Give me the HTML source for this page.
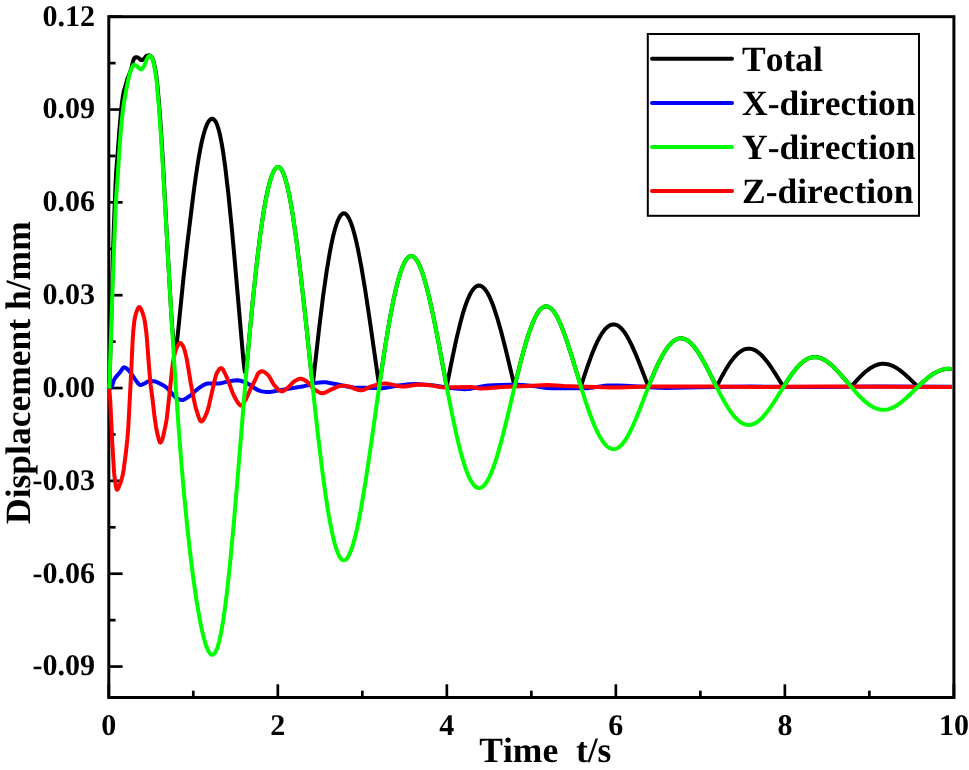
<!DOCTYPE html>
<html><head><meta charset="utf-8"><style>
html,body{margin:0;padding:0;background:#fff;width:969px;height:770px;overflow:hidden}
svg{display:block;will-change:transform;text-rendering:geometricPrecision;font-family:"Liberation Serif",serif;font-weight:bold;font-kerning:none}
</style></head><body>
<svg width="969" height="770" viewBox="0 0 969 770">
<rect width="969" height="770" fill="#fff"/>
<g stroke="#000" stroke-width="2.7"><line x1="108.80" y1="16.70" x2="122.60" y2="16.70"/><line x1="108.80" y1="109.54" x2="122.60" y2="109.54"/><line x1="108.80" y1="202.37" x2="122.60" y2="202.37"/><line x1="108.80" y1="295.21" x2="122.60" y2="295.21"/><line x1="108.80" y1="388.05" x2="122.60" y2="388.05"/><line x1="108.80" y1="480.88" x2="122.60" y2="480.88"/><line x1="108.80" y1="573.72" x2="122.60" y2="573.72"/><line x1="108.80" y1="666.55" x2="122.60" y2="666.55"/><line x1="108.80" y1="63.12" x2="115.60" y2="63.12"/><line x1="108.80" y1="155.95" x2="115.60" y2="155.95"/><line x1="108.80" y1="248.79" x2="115.60" y2="248.79"/><line x1="108.80" y1="341.63" x2="115.60" y2="341.63"/><line x1="108.80" y1="434.46" x2="115.60" y2="434.46"/><line x1="108.80" y1="527.30" x2="115.60" y2="527.30"/><line x1="108.80" y1="620.14" x2="115.60" y2="620.14"/><line x1="108.80" y1="697.50" x2="108.80" y2="684.30"/><line x1="193.31" y1="697.50" x2="193.31" y2="690.70"/><line x1="277.82" y1="697.50" x2="277.82" y2="684.30"/><line x1="362.33" y1="697.50" x2="362.33" y2="690.70"/><line x1="446.84" y1="697.50" x2="446.84" y2="684.30"/><line x1="531.35" y1="697.50" x2="531.35" y2="690.70"/><line x1="615.86" y1="697.50" x2="615.86" y2="684.30"/><line x1="700.37" y1="697.50" x2="700.37" y2="690.70"/><line x1="784.88" y1="697.50" x2="784.88" y2="684.30"/><line x1="869.39" y1="697.50" x2="869.39" y2="690.70"/><line x1="953.90" y1="697.50" x2="953.90" y2="684.30"/></g>
<rect x="108.80" y="16.70" width="845.10" height="680.80" fill="none" stroke="#000" stroke-width="3"/>
<path d="M109.30,383.68 109.55,379.16 110.30,354.43 113.05,252.48 114.05,221.89 115.55,183.93 116.30,169.96 117.55,154.96 119.30,131.08 120.80,113.68 121.80,104.09 123.05,95.23 124.05,90.52 125.30,86.46 127.55,78.26 129.55,73.45 131.05,69.39 131.80,66.68 133.05,61.12 134.05,58.52 134.55,57.84 135.05,57.46 135.80,57.32 137.30,57.37 138.30,57.80 140.80,59.86 141.30,60.07 141.80,60.08 142.80,59.63 144.55,58.29 146.05,56.13 146.55,55.65 147.80,55.59 149.05,55.33 149.55,55.39 150.30,55.81 151.05,56.52 151.80,57.52 152.80,59.14 153.05,59.75 153.80,62.57 155.30,69.48 156.30,75.44 157.05,82.06 158.55,98.05 160.30,119.98 162.30,150.84 168.80,271.30 171.30,314.10 172.30,328.02 173.55,341.72 174.30,347.04 174.80,348.88 175.05,349.23 175.30,349.23 175.55,348.87 176.05,347.21 177.05,340.99 178.05,332.01 183.30,279.44 186.80,248.09 193.30,194.96 195.80,176.58 198.05,161.81 199.80,151.54 201.55,142.75 203.30,135.47 205.05,129.53 206.80,124.81 207.55,123.19 208.55,121.46 209.55,120.17 210.55,119.28 211.55,118.80 212.30,118.72 213.30,119.02 214.05,119.56 215.05,120.70 215.80,121.90 217.30,125.32 218.80,130.12 220.30,136.33 221.80,144.02 223.30,153.18 225.05,165.63 228.30,193.15 231.80,228.18 234.55,258.55 243.30,359.26 244.55,370.17 245.05,372.15 245.30,372.26 245.55,371.74 246.05,369.21 247.05,360.81 253.05,298.27 257.05,260.59 260.30,234.23 263.30,213.69 265.05,203.42 267.05,193.20 268.80,185.60 270.80,178.51 272.80,173.08 274.55,169.69 275.55,168.35 276.30,167.63 277.30,167.05 278.05,166.92 279.05,167.13 279.80,167.59 280.80,168.61 281.55,169.67 283.30,173.17 285.30,178.87 287.05,185.30 289.05,194.25 290.80,203.40 292.80,215.29 296.30,239.43 300.30,271.43 304.55,309.30 311.55,375.49 312.55,383.11 312.80,383.15 313.30,380.02 319.05,328.93 323.05,296.62 326.55,271.90 329.80,252.39 331.55,243.38 333.30,235.50 335.05,228.78 336.80,223.25 338.55,218.93 340.30,215.84 341.05,214.89 342.05,213.97 342.80,213.54 343.80,213.32 344.55,213.41 345.55,213.88 346.30,214.48 347.30,215.61 349.05,218.49 350.80,222.47 352.55,227.52 354.30,233.57 356.05,240.56 358.05,249.64 361.30,266.58 365.05,288.99 369.55,318.77 378.05,378.25 378.80,382.75 379.05,383.67 379.30,383.74 380.05,380.15 385.55,344.25 389.55,320.42 393.30,300.81 395.05,292.71 396.80,285.34 398.80,277.85 400.55,272.17 402.30,267.31 404.05,263.30 405.80,260.16 407.55,257.89 408.30,257.19 409.30,256.50 410.05,256.17 411.05,255.98 411.80,256.02 412.80,256.33 413.55,256.74 414.55,257.54 416.30,259.58 418.30,262.92 420.05,266.68 422.05,271.89 423.80,277.20 425.80,284.07 429.55,299.02 433.55,317.40 438.05,340.22 446.05,383.01 446.55,385.48 446.80,385.94 452.55,356.99 456.55,338.35 460.55,321.91 462.55,314.68 464.30,308.94 466.30,303.10 468.05,298.64 469.80,294.82 471.55,291.64 473.55,288.81 475.30,287.05 477.05,285.96 478.80,285.53 480.55,285.77 482.30,286.66 484.05,288.18 486.05,290.69 487.80,293.52 489.80,297.46 491.55,301.48 493.55,306.71 497.05,317.29 501.05,331.29 505.55,348.86 513.30,381.07 514.05,383.78 514.30,384.41 514.55,384.68 514.80,384.44 515.05,383.83 515.55,382.12 521.30,359.29 525.30,344.68 528.80,333.38 532.05,324.41 533.80,320.26 535.55,316.61 537.30,313.50 539.05,310.93 540.80,308.92 542.55,307.48 544.05,306.69 545.80,306.31 547.30,306.43 549.05,307.10 550.80,308.31 552.55,310.07 554.30,312.33 556.05,315.08 557.80,318.29 559.80,322.49 563.05,330.38 566.80,340.85 571.30,354.81 579.80,382.71 580.55,384.82 580.80,385.26 581.05,385.34 581.30,385.00 581.80,383.74 587.30,366.97 591.30,355.81 595.05,346.58 597.05,342.21 598.80,338.75 600.80,335.21 602.55,332.50 604.30,330.16 606.05,328.21 608.05,326.47 609.80,325.37 611.55,324.69 613.30,324.42 615.05,324.57 616.80,325.12 618.55,326.09 620.30,327.46 622.05,329.23 624.05,331.70 625.80,334.25 627.80,337.57 631.55,344.84 635.55,353.84 639.55,363.73 648.30,386.39 648.55,386.34 654.05,372.87 658.30,363.41 662.05,356.07 665.80,349.86 667.80,347.05 669.55,344.89 671.30,343.03 673.05,341.47 675.05,340.06 676.80,339.16 678.55,338.57 680.30,338.30 682.05,338.34 683.80,338.69 685.55,339.35 687.55,340.48 689.30,341.77 691.30,343.59 693.30,345.76 695.30,348.25 699.05,353.70 703.30,360.90 707.80,369.39 715.80,385.36 716.30,386.27 716.55,386.44 722.55,375.17 726.30,368.62 730.05,362.77 733.55,358.10 735.55,355.81 737.30,354.05 739.05,352.53 740.80,351.24 742.55,350.21 744.30,349.44 746.05,348.92 747.80,348.66 749.55,348.66 751.30,348.92 753.05,349.42 755.05,350.31 756.80,351.33 758.80,352.79 760.80,354.53 762.80,356.53 766.55,360.93 770.80,366.75 775.30,373.60 783.30,386.51 783.55,386.64 788.55,378.86 792.30,373.46 796.05,368.65 799.55,364.81 803.05,361.68 804.80,360.41 806.55,359.34 808.30,358.48 809.80,357.90 811.55,357.42 813.30,357.15 815.05,357.07 817.05,357.23 818.80,357.58 820.80,358.20 822.80,359.05 824.80,360.12 826.80,361.39 829.05,363.04 833.30,366.73 837.80,371.30 842.30,376.35 851.05,386.65 851.30,386.56 856.55,380.57 860.55,376.33 864.05,372.99 867.30,370.27 870.55,367.97 873.80,366.14 877.05,364.81 880.05,364.06 882.05,363.81 883.80,363.76 885.80,363.90 887.80,364.25 889.80,364.79 891.80,365.52 893.80,366.44 896.05,367.68 900.05,370.37 904.55,374.03 908.55,377.68 917.80,386.59 918.30,386.33 924.05,380.99 928.55,377.22 932.55,374.32 936.55,371.97 940.55,370.22 944.30,369.18 948.05,368.76 951.80,368.97" fill="none" stroke="#000000" stroke-width="4" stroke-linejoin="round" stroke-linecap="butt"/>
<path d="M109.30,388.60 109.80,388.48 110.55,387.93 112.05,385.96 113.80,380.40 115.05,378.13 117.30,375.32 120.55,371.71 122.80,368.09 123.55,367.39 124.05,367.31 125.05,367.59 126.30,368.33 127.55,369.22 128.80,370.47 131.55,373.97 134.55,378.68 137.30,382.38 138.55,383.88 139.55,384.71 140.55,385.00 142.05,384.66 145.05,383.23 147.55,381.65 148.55,381.32 154.30,381.31 156.05,381.71 162.55,384.90 164.55,386.11 166.55,387.54 168.30,389.21 174.80,396.65 176.30,398.08 177.30,398.64 179.55,399.54 180.80,399.87 182.05,400.00 183.05,399.90 184.05,399.58 186.55,398.18 191.30,394.76 196.30,390.13 198.05,388.66 203.30,385.16 205.80,383.92 207.80,383.50 219.55,383.44 221.55,383.09 227.30,381.63 233.80,380.59 237.55,380.30 239.05,380.40 240.55,380.75 243.80,381.84 246.05,382.80 251.05,385.59 254.80,388.38 257.55,389.87 259.30,390.66 260.80,391.15 262.80,391.52 265.55,391.88 267.80,392.00 270.05,391.91 272.80,391.56 280.30,390.12 303.80,386.17 307.80,385.29 312.55,383.63 314.55,383.12 319.80,382.42 323.55,382.20 325.80,382.30 328.55,382.70 337.80,384.42 350.80,387.21 353.80,387.54 374.30,388.12 382.55,388.15 387.05,387.61 395.30,385.94 398.80,385.38 409.30,384.30 415.80,384.11 422.30,384.38 431.80,385.12 435.80,385.65 448.05,387.68 458.55,388.87 464.55,389.20 467.55,389.09 471.05,388.66 483.05,386.16 488.05,385.42 500.05,384.93 512.30,384.71 518.30,384.79 525.30,385.27 535.30,386.24 546.80,387.91 551.55,388.20 587.05,388.15 592.55,387.63 604.80,385.80 608.05,385.50 610.80,385.40 617.30,385.49 625.05,385.77 642.80,386.64 658.55,387.66 666.30,387.90 676.05,387.79 699.55,387.21 751.30,386.62 819.30,386.90 876.80,386.60 951.80,386.70" fill="none" stroke="#0000ff" stroke-width="4" stroke-linejoin="round" stroke-linecap="butt"/>
<path d="M109.30,388.60 110.30,401.65 112.30,443.70 114.05,472.13 114.55,477.18 115.80,485.73 116.55,488.91 116.80,489.46 117.05,489.69 117.30,489.65 117.80,489.18 118.80,487.12 121.05,481.19 122.30,476.80 123.05,473.15 123.80,468.58 125.80,453.59 127.30,439.64 128.30,427.07 131.30,370.00 132.55,342.24 133.30,330.52 134.30,321.51 134.80,318.29 135.30,316.00 136.55,311.79 137.55,309.16 138.55,307.51 139.30,307.10 140.05,307.47 140.80,308.50 142.30,312.02 144.05,317.70 145.05,323.14 146.30,332.45 146.80,337.65 149.55,373.27 150.55,384.53 152.55,399.61 154.55,416.89 156.05,427.06 157.05,432.29 159.05,440.43 159.80,442.21 160.30,442.60 160.80,442.33 161.30,441.62 162.30,439.50 162.80,437.94 165.30,426.64 166.55,419.82 167.55,411.85 172.55,365.17 173.80,357.70 175.05,352.24 176.30,348.44 177.55,345.85 178.55,344.13 179.30,343.25 180.05,342.90 180.55,343.01 181.30,343.59 183.05,346.08 184.05,348.46 185.05,351.87 186.30,356.87 187.05,360.57 190.80,383.35 193.55,397.83 195.05,404.94 196.30,409.68 199.05,418.20 199.80,419.92 200.30,420.77 200.80,421.31 201.30,421.50 201.80,421.39 202.55,420.85 203.80,419.12 205.55,415.57 207.05,412.09 207.55,410.63 209.05,404.92 214.80,379.78 216.30,374.34 217.05,372.59 219.05,369.47 220.05,368.46 220.55,368.18 221.05,368.10 221.80,368.38 222.80,369.41 223.80,371.03 224.80,373.04 228.30,380.80 232.30,391.96 233.80,395.43 236.80,400.97 238.30,403.36 239.80,405.03 240.55,405.47 241.05,405.59 241.80,405.42 242.80,404.46 246.05,399.03 247.30,396.40 250.55,388.73 255.05,380.20 257.80,373.90 258.30,373.19 259.80,372.04 261.05,371.39 262.05,371.20 263.30,371.43 264.55,372.08 266.05,373.23 268.30,375.30 269.80,377.44 272.80,383.01 274.05,384.96 278.05,389.37 279.30,390.42 280.55,391.10 281.30,391.28 282.30,391.23 283.30,390.90 284.30,390.37 285.80,389.29 289.30,386.37 292.55,382.83 293.80,381.73 296.30,380.17 298.05,379.27 299.55,378.79 300.80,378.71 302.05,378.94 303.55,379.53 307.30,381.81 308.80,383.31 312.55,387.97 313.30,388.63 316.05,390.55 318.05,391.80 319.55,392.54 321.05,393.03 322.30,393.20 323.55,393.09 325.05,392.62 329.30,390.44 336.55,387.10 338.80,386.24 340.55,385.82 342.05,385.70 344.55,385.81 350.05,386.61 351.30,387.06 354.80,388.94 358.80,390.05 360.30,390.27 361.55,390.28 363.05,390.03 364.55,389.52 370.05,386.83 372.05,386.07 379.80,384.05 382.30,383.65 384.55,383.50 386.55,383.59 388.80,383.89 398.30,386.05 402.30,386.57 404.55,386.56 406.80,386.34 416.55,384.66 420.55,384.52 424.80,384.76 431.30,385.39 438.80,386.80 441.80,387.17 456.30,387.20 470.55,387.01 473.05,387.26 478.55,388.21 481.05,388.40 487.30,388.17 502.05,387.01 527.55,385.97 541.80,385.15 547.55,385.00 552.30,385.14 564.05,386.00 586.05,386.63 603.55,387.37 610.05,387.50 619.55,387.38 644.80,386.62 689.05,386.41 710.30,386.44 757.55,386.90 820.05,386.60 951.80,386.90" fill="none" stroke="#ff0000" stroke-width="4" stroke-linejoin="round" stroke-linecap="butt"/>
<path d="M109.30,388.60 112.80,279.26 115.80,203.72 116.30,195.35 117.55,179.27 119.05,155.19 120.30,137.67 121.55,122.57 122.80,110.94 124.05,102.22 127.80,81.62 129.05,76.18 130.05,72.53 132.30,67.02 133.05,65.69 133.55,65.10 134.05,64.82 134.55,64.84 135.55,65.30 137.30,66.54 140.05,69.06 140.80,69.38 141.55,69.24 142.55,68.29 144.30,65.63 146.55,59.78 147.80,57.59 148.80,56.20 149.30,55.81 149.80,55.71 150.30,55.89 151.05,56.57 151.80,57.65 152.80,59.52 153.55,62.27 155.05,70.09 155.80,74.63 156.55,80.47 158.80,105.85 160.55,129.50 162.30,156.81 171.05,310.75 173.80,356.37 176.30,395.00 178.80,430.16 181.55,465.10 184.30,496.51 187.05,524.72 190.05,552.18 193.30,578.29 196.55,600.79 199.80,619.71 201.30,627.21 202.80,633.89 204.30,639.73 205.80,644.69 207.30,648.73 208.80,651.79 210.30,653.82 211.55,654.69 212.55,654.81 213.55,654.40 214.55,653.45 215.55,651.93 216.55,649.82 217.55,647.12 219.30,640.94 221.05,632.88 223.05,621.39 225.05,607.53 227.05,591.42 230.30,560.91 233.80,523.12 237.05,484.81 245.55,380.73 250.55,324.13 253.05,298.32 255.55,274.45 258.05,252.70 260.30,235.03 262.55,219.26 264.80,205.46 267.05,193.68 269.05,184.96 271.30,177.16 273.30,172.05 274.30,170.14 275.30,168.68 276.30,167.67 277.30,167.10 278.30,166.98 279.05,167.19 280.05,167.87 280.80,168.68 281.55,169.74 282.55,171.56 283.55,173.84 284.55,176.56 286.30,182.40 288.05,189.58 289.80,198.03 291.80,209.20 293.80,221.85 295.80,235.88 300.05,269.59 304.55,309.60 313.55,394.72 317.55,431.21 321.80,466.93 325.55,494.77 327.80,509.47 330.05,522.47 332.30,533.68 334.55,542.99 336.80,550.33 338.80,555.17 339.80,556.99 340.80,558.41 341.80,559.43 343.05,560.14 343.80,560.27 344.55,560.18 345.30,559.87 346.30,559.12 347.05,558.31 348.05,556.89 349.80,553.54 351.55,549.09 353.30,543.60 355.05,537.13 357.05,528.61 359.05,518.98 361.05,508.36 365.30,482.99 369.80,453.10 379.30,386.14 383.30,358.92 387.80,330.61 391.80,308.34 394.30,296.11 396.55,286.36 398.80,277.87 401.05,270.71 403.30,264.93 404.55,262.33 405.55,260.57 406.80,258.78 407.80,257.66 408.80,256.83 410.05,256.20 410.80,256.03 411.80,256.06 412.55,256.26 413.55,256.78 415.30,258.35 417.05,260.76 418.80,263.96 420.80,268.57 422.55,273.38 424.55,279.72 426.55,286.90 428.55,294.83 433.05,315.01 437.80,338.91 447.30,389.72 451.55,411.63 456.05,432.99 460.05,449.73 462.55,458.88 464.80,466.16 467.05,472.46 469.30,477.73 471.55,481.94 473.80,485.07 474.80,486.10 475.80,486.92 476.80,487.51 478.05,487.95 478.80,488.05 479.80,488.00 480.80,487.73 481.80,487.25 483.55,485.90 485.55,483.60 487.30,480.93 489.30,477.18 491.30,472.70 493.30,467.56 495.30,461.79 497.55,454.63 502.05,438.51 506.80,419.56 515.80,381.58 519.80,365.22 524.05,349.11 527.80,336.47 530.05,329.76 532.30,323.80 534.55,318.65 536.55,314.78 538.80,311.28 540.80,308.94 542.80,307.34 543.80,306.82 544.80,306.48 546.30,306.33 548.05,306.68 549.80,307.58 551.55,309.03 553.30,311.00 555.05,313.48 556.80,316.43 558.80,320.35 560.55,324.22 562.55,329.11 566.80,340.88 571.30,354.85 581.05,387.07 585.30,400.57 589.80,413.73 594.05,424.69 596.55,430.33 598.80,434.85 601.30,439.20 603.55,442.48 605.80,445.12 608.05,447.12 610.30,448.44 611.55,448.89 612.55,449.09 614.30,449.13 616.05,448.75 617.80,447.96 619.55,446.76 621.30,445.16 623.30,442.87 625.05,440.48 627.05,437.32 630.80,430.31 634.80,421.53 639.30,410.50 648.30,387.10 652.30,377.07 656.80,366.64 660.80,358.42 663.05,354.32 665.30,350.63 667.55,347.39 669.80,344.62 672.05,342.34 674.30,340.55 676.55,339.28 678.55,338.58 680.30,338.31 682.30,338.38 684.30,338.86 686.30,339.74 688.30,341.00 690.30,342.64 692.30,344.64 694.55,347.28 696.55,349.96 698.55,352.92 703.05,360.46 707.80,369.39 717.30,388.39 721.55,396.58 725.80,404.15 729.80,410.46 732.05,413.60 734.30,416.39 736.55,418.82 738.80,420.87 741.05,422.52 743.05,423.63 745.30,424.49 747.30,424.89 749.05,424.97 751.05,424.74 752.80,424.26 754.80,423.42 756.80,422.27 758.80,420.81 760.80,419.07 762.80,417.07 766.80,412.35 771.05,406.49 775.55,399.60 787.80,379.99 791.55,374.50 795.05,369.87 799.05,365.31 801.05,363.38 803.05,361.68 805.05,360.25 807.05,359.08 809.05,358.17 810.80,357.60 812.80,357.20 814.80,357.07 816.80,357.20 819.05,357.64 821.05,358.29 823.30,359.30 825.55,360.57 827.80,362.10 832.30,365.81 837.05,370.50 842.05,376.06 856.30,392.76 860.55,397.27 864.55,401.05 869.05,404.63 871.30,406.10 873.30,407.21 875.55,408.24 877.55,408.95 879.80,409.50 881.80,409.77 883.80,409.84 885.80,409.70 887.80,409.35 890.05,408.73 892.05,407.97 894.30,406.90 898.55,404.30 902.30,401.47 906.55,397.79 920.05,384.69 925.30,379.90 930.30,375.89 934.80,372.93 937.05,371.71 939.30,370.69 941.55,369.88 943.55,369.34 945.80,368.94 947.80,368.77 949.80,368.78 951.80,368.97" fill="none" stroke="#00ff00" stroke-width="4" stroke-linejoin="round" stroke-linecap="butt"/>

<g font-size="30"><text x="95.1" y="25.60" text-anchor="end">0.12</text><text x="95.1" y="118.44" text-anchor="end">0.09</text><text x="95.1" y="211.27" text-anchor="end">0.06</text><text x="95.1" y="304.11" text-anchor="end">0.03</text><text x="95.1" y="396.95" text-anchor="end">0.00</text><text x="95.1" y="489.78" text-anchor="end">-0.03</text><text x="95.1" y="582.62" text-anchor="end">-0.06</text><text x="95.1" y="675.45" text-anchor="end">-0.09</text><text x="108.80" y="735" text-anchor="middle">0</text><text x="277.82" y="735" text-anchor="middle">2</text><text x="446.84" y="735" text-anchor="middle">4</text><text x="615.86" y="735" text-anchor="middle">6</text><text x="784.88" y="735" text-anchor="middle">8</text><text x="953.90" y="735" text-anchor="middle">10</text></g>

<rect x="647.8" y="34" width="271.2" height="181.8" fill="#fff" stroke="#000" stroke-width="2"/>
<line x1="652" y1="58.8" x2="732" y2="58.8" stroke="#000" stroke-width="4" stroke-linecap="round"/>
<line x1="652" y1="103" x2="732" y2="103" stroke="#0000ff" stroke-width="4" stroke-linecap="round"/>
<line x1="652" y1="147" x2="732" y2="147" stroke="#00ff00" stroke-width="4" stroke-linecap="round"/>
<line x1="652" y1="191" x2="732" y2="191" stroke="#ff0000" stroke-width="4" stroke-linecap="round"/>
<g font-size="35.5">
<text x="742" y="71">Total</text>
<text x="742" y="115">X-direction</text>
<text x="742" y="159">Y-direction</text>
<text x="742" y="203">Z-direction</text>
</g>

<text font-size="35.5" x="479.3" y="762">Time&#160;&#160;t/s</text>
<text font-size="35.5" transform="translate(30,524) rotate(-90)">Displacement h/mm</text>
</svg>
</body></html>
